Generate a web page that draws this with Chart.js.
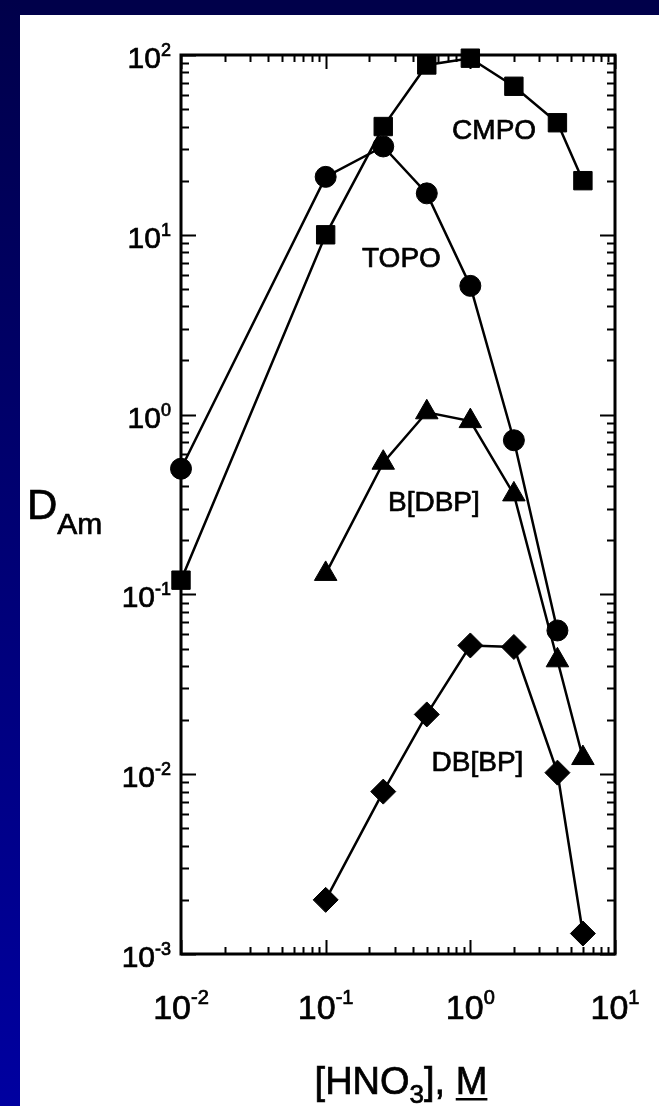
<!DOCTYPE html>
<html>
<head>
<meta charset="utf-8">
<script src="https://cdn.jsdelivr.net/npm/chart.js@4"></script>
<style>
  html, body { margin: 0; padding: 0; background: #fff; }
  #wrap { position: relative; width: 659px; height: 1106px; overflow: hidden; background: #fff; }
  #chart { position: absolute; left: 0; top: 0; }
  #topBar { position: absolute; left: 0; top: 0; width: 659px; height: 15px; background: #00004a; }
  #leftBar { position: absolute; left: 0; top: 0; width: 20px; height: 1106px; background: linear-gradient(#00004a, #0000a0); }
</style>
</head>
<body>
<div id="wrap">
  <canvas id="chart" width="659" height="1106"></canvas>
  <div id="topBar"></div>
  <div id="leftBar"></div>
</div>
<script>
// [HNO3] (M) and D(Am)
const hno3 = [0.01, 0.1, 0.25, 0.5, 1, 2, 4, 6];
const cmpoD = [0.12, 10, 40, 88, 96, 67, 42, 20];
const topoHno3 = [0.01, 0.1, 0.25, 0.5, 1, 2, 4];
const topoD = [0.5, 21, 31, 17, 5.2, 0.72, 0.063];
const bdbpHno3 = [0.1, 0.25, 0.5, 1, 2, 4, 6];
const bdbpD = [0.13, 0.54, 1.03, 0.92, 0.36, 0.043, 0.0123];
const dbbpHno3 = [0.1, 0.25, 0.5, 1, 2, 4, 6];
const dbbpD = [0.002, 0.008, 0.0215, 0.052, 0.051, 0.0102, 0.0013];

// decade tick labels (exponents of 10)
const xDecades = [-2, -1, 0, 1];
const yDecades = [-3, -2, -1, 0, 1, 2];

// curve names and where they sit (data coords)
const curveNames = ["CMPO", "TOPO", "B[DBP]", "DB[BP]"];
const nameX = [1.46, 0.334, 0.56, 1.12];
const nameY = [38.6, 7.5, 0.33, 0.0119];

const FONT = '"Liberation Sans", Arial, Helvetica, sans-serif';

function toPoints(xs, ys) {
  return xs.map((x, i) => ({ x: x, y: ys[i] }));
}

function series(label, xs, ys, style, radius) {
  return {
    label: label,
    data: toPoints(xs, ys),
    showLine: true,
    borderColor: "#000",
    borderWidth: 2.5,
    backgroundColor: "#000",
    pointBackgroundColor: "#000",
    pointBorderColor: "#000",
    pointBorderWidth: 1,
    pointStyle: style,
    pointRadius: radius,
    pointHoverRadius: radius,
    clip: false,
  };
}

// scanned text looks heavier, so fill + thin stroke
function ink(ctx, text, x, y) {
  ctx.fillText(text, x, y);
  ctx.strokeText(text, x, y);
}

const frameAndTicks = {
  id: "frameAndTicks",
  beforeDatasetsDraw(chart) {
    const ctx = chart.ctx;
    const a = chart.chartArea;
    const xs = chart.scales.x;
    const ys = chart.scales.y;
    ctx.save();
    ctx.strokeStyle = "#000";
    ctx.lineCap = "butt";

    ctx.lineWidth = 2;
    xDecades.forEach((e) => {
      for (let m = 1; m <= 9; m++) {
        const v = m * Math.pow(10, e);
        if (v > xs.max * 1.0001) break;
        const px = Math.round(xs.getPixelForValue(v)) + 0.5;
        const len = m === 1 ? 14 : 7;
        ctx.beginPath();
        ctx.moveTo(px, a.bottom);
        ctx.lineTo(px, a.bottom - len);
        ctx.moveTo(px, a.top);
        ctx.lineTo(px, a.top + len);
        ctx.stroke();
      }
    });
    yDecades.forEach((e) => {
      for (let m = 1; m <= 9; m++) {
        const v = m * Math.pow(10, e);
        if (v > ys.max * 1.0001) break;
        const py = Math.round(ys.getPixelForValue(v)) + 0.5;
        const len = m === 1 ? 15 : 8;
        ctx.beginPath();
        ctx.moveTo(a.left, py);
        ctx.lineTo(a.left + len, py);
        ctx.moveTo(a.right, py);
        ctx.lineTo(a.right - len, py);
        ctx.stroke();
      }
    });

    ctx.lineWidth = 3;
    ctx.strokeRect(a.left, a.top, a.right - a.left, a.bottom - a.top);
    ctx.restore();
  },
  afterDraw(chart) {
    const ctx = chart.ctx;
    const a = chart.chartArea;
    const xs = chart.scales.x;
    const ys = chart.scales.y;
    ctx.save();
    ctx.fillStyle = "#000";
    ctx.strokeStyle = "#000";
    ctx.lineWidth = 0.7;
    ctx.textBaseline = "alphabetic";
    ctx.textAlign = "left";

    // y decade labels
    yDecades.forEach((e) => {
      const py = ys.getPixelForValue(Math.pow(10, e));
      const sup = String(e);
      ctx.font = "18px " + FONT;
      const supW = ctx.measureText(sup).width;
      ctx.font = "30px " + FONT;
      const baseW = ctx.measureText("10").width;
      const right = a.left - 10;
      ink(ctx, "10", right - supW - baseW, py + 13);
      ctx.font = "18px " + FONT;
      ink(ctx, sup, right - supW, py + 1);
    });

    // x decade labels
    xDecades.forEach((e) => {
      const px = xs.getPixelForValue(Math.pow(10, e));
      const sup = String(e);
      ctx.font = "20px " + FONT;
      const supW = ctx.measureText(sup).width;
      ctx.font = "34px " + FONT;
      const baseW = ctx.measureText("10").width;
      const left = px - (baseW + supW) / 2;
      ink(ctx, "10", left, a.bottom + 65);
      ctx.font = "20px " + FONT;
      ink(ctx, sup, left + baseW, a.bottom + 50);
    });

    // curve names
    ctx.font = "28px " + FONT;
    ctx.textAlign = "center";
    curveNames.forEach((name, i) => {
      const px = xs.getPixelForValue(nameX[i]);
      const py = ys.getPixelForValue(nameY[i]);
      ink(ctx, name, px, py + 10);
    });

    // x title: [HNO3], M
    ctx.textAlign = "left";
    const big = "38px " + FONT;
    const small = "26px " + FONT;
    ctx.font = big;
    const w1 = ctx.measureText("[HNO").width;
    const w3 = ctx.measureText("], ").width;
    const wM = ctx.measureText("M").width;
    ctx.font = small;
    const w2 = ctx.measureText("3").width;
    const total = w1 + w2 + w3 + wM;
    let tx = (a.left + a.right) / 2 - total / 2 + 3;
    const ty = 1094;
    ctx.font = big;
    ink(ctx, "[HNO", tx, ty);
    tx += w1;
    ctx.font = small;
    ink(ctx, "3", tx, ty + 9);
    tx += w2;
    ctx.font = big;
    ink(ctx, "], ", tx, ty);
    tx += w3;
    ink(ctx, "M", tx, ty);
    ctx.fillRect(tx, ty + 4, wM, 2.5);

    // y title: D_Am
    ctx.font = "42px " + FONT;
    ink(ctx, "D", 27, 519);
    const wD = ctx.measureText("D").width;
    ctx.font = "30px " + FONT;
    ink(ctx, "Am", 27 + wD, 534);

    ctx.restore();
  },
};

const chart = new Chart(document.getElementById("chart"), {
  type: "scatter",
  data: {
    datasets: [
      series("CMPO", hno3, cmpoD, "rect", 13),
      series("TOPO", topoHno3, topoD, "circle", 10.5),
      series("B[DBP]", bdbpHno3, bdbpD, "triangle", 13),
      series("DB[BP]", dbbpHno3, dbbpD, "rectRot", 12.5),
    ],
  },
  options: {
    responsive: false,
    animation: false,
    devicePixelRatio: 1,
    layout: { padding: { left: 173, right: 44, top: 55, bottom: 144 } },
    plugins: {
      legend: { display: false },
      tooltip: { enabled: false },
    },
    scales: {
      x: {
        type: "logarithmic",
        min: 0.01,
        max: 10,
        ticks: { display: false },
        grid: { display: false },
        border: { display: false },
      },
      y: {
        type: "logarithmic",
        min: 0.001,
        max: 100,
        ticks: { display: false },
        grid: { display: false },
        border: { display: false },
      },
    },
  },
  plugins: [frameAndTicks],
});
</script>
</body>
</html>
